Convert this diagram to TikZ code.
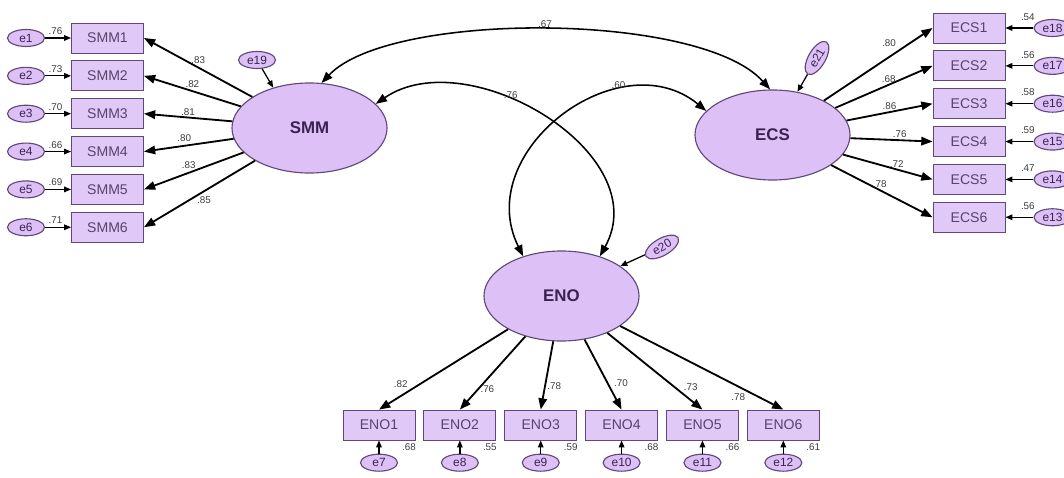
\documentclass[tikz,border=0pt]{standalone}
\usepackage{fontspec}
\setmainfont{Liberation Sans}
\usepackage{xcolor}
\definecolor{lilas}{RGB}{221,193,246}
\definecolor{lilasC}{RGB}{224,201,246}
\definecolor{roxo}{RGB}{96,72,122}
\definecolor{roxoT}{RGB}{58,35,82}
\definecolor{cinza}{RGB}{60,60,60}
\usetikzlibrary{arrows.meta,shapes.geometric,positioning}

\begin{document}
\begin{tikzpicture}[x=0.025cm,y=-0.025cm,
            latente/.style={ellipse,draw=roxo,fill=lilas,line width=0.8pt,
              minimum width=3.875cm,minimum height=2.25cm,
              font=\fontsize{12}{14}\selectfont\bfseries,text=roxoT},
            indic/.style={draw=roxo,fill=lilasC,line width=0.6pt,
              minimum width=1.8cm,minimum height=0.75cm,inner sep=0pt,
              font=\fontsize{10}{12}\selectfont,text=roxoT!85},
            erro/.style={ellipse,draw=roxo,fill=lilas,line width=0.8pt,
              minimum width=0.925cm,minimum height=0.425cm,inner sep=0pt,
              font=\fontsize{8.5}{10}\selectfont,text=roxoT},
            carga/.style={font=\fontsize{7}{8}\selectfont,text=cinza,inner sep=1pt},
            seta/.style={-{Triangle[length=8pt,width=6pt]},line width=1.3pt},
            setaerro/.style={-{Triangle[length=5pt,width=4pt]},line width=0.9pt},
            cov/.style={{Triangle[length=8pt,width=6pt]}-{Triangle[length=8pt,width=6pt]},
              line width=1.1pt}
            ]
            \useasboundingbox (0,0) rectangle (1064,478);

            % fatores latentes
            \node[latente] (smm) at (309.5,128) {SMM};
            \node[latente] (ecs) at (772.5,135) {ECS};
            \node[latente] (eno) at (561.5,296) {ENO};

            % indicadores SMM
            \node[indic] at (107.5,38)             (s1) {SMM1};
            \node[indic,below=0.175cm of s1]       (s2) {SMM2};
            \node[indic,below=0.175cm of s2]       (s3) {SMM3};
            \node[indic,below=0.175cm of s3]       (s4) {SMM4};
            \node[indic,below=0.175cm of s4]       (s5) {SMM5};
            \node[indic,below=0.175cm of s5]       (s6) {SMM6};

            % indicadores ECS
            \node[indic] at (969,28)               (c1) {ECS1};
            \node[indic,below=0.175cm of c1]       (c2) {ECS2};
            \node[indic,below=0.175cm of c2]       (c3) {ECS3};
            \node[indic,below=0.175cm of c3]       (c4) {ECS4};
            \node[indic,below=0.175cm of c4]       (c5) {ECS5};
            \node[indic,below=0.175cm of c5]       (c6) {ECS6};

            % indicadores ENO
            \node[indic] at (379,425)              (n1) {ENO1};
            \node[indic,right=0.2cm of n1]         (n2) {ENO2};
            \node[indic,right=0.2cm of n2]         (n3) {ENO3};
            \node[indic,right=0.2cm of n3]         (n4) {ENO4};
            \node[indic,right=0.2cm of n4]         (n5) {ENO5};
            \node[indic,right=0.2cm of n5]         (n6) {ENO6};

            % erros
            \node[erro,left=0.65cm of s1]          (e1) {e1};
            \node[erro,left=0.65cm of s2]          (e2) {e2};
            \node[erro,left=0.65cm of s3]          (e3) {e3};
            \node[erro,left=0.65cm of s4]          (e4) {e4};
            \node[erro,left=0.65cm of s5]          (e5) {e5};
            \node[erro,left=0.65cm of s6]          (e6) {e6};
            \node[erro,right=0.7cm of c1]          (e18) {e18};
            \node[erro,right=0.7cm of c2]          (e17) {e17};
            \node[erro,right=0.7cm of c3]          (e16) {e16};
            \node[erro,right=0.7cm of c4]          (e15) {e15};
            \node[erro,right=0.7cm of c5]          (e14) {e14};
            \node[erro,right=0.7cm of c6]          (e13) {e13};
            \node[erro,below=0.33cm of n1]         (e7) {e7};
            \node[erro,below=0.33cm of n2]         (e8) {e8};
            \node[erro,below=0.33cm of n3]         (e9) {e9};
            \node[erro,below=0.33cm of n4]         (e10) {e10};
            \node[erro,below=0.33cm of n5]         (e11) {e11};
            \node[erro,below=0.33cm of n6]         (e12) {e12};
            \node[erro] at (257,60)                (e19) {e19};
            \node[erro,rotate=60] at (817,58)      (e21) {e21};
            \node[erro,rotate=30] at (662,247)     (e20) {e20};

            % cargas SMM
            \draw[seta] (smm) -- node[carga,above=1pt] {.83} (s1.east);
            \draw[seta] (smm) -- node[carga,above=1pt] {.82} (s2.east);
            \draw[seta] (smm) -- node[carga,above] {.81} (s3.east);
            \draw[seta] (smm) -- node[carga,pos=.55,above=1pt] {.80} (s4.east);
            \draw[seta] (smm) -- node[carga,pos=.55,above=1pt] {.83} (s5.east);
            \draw[seta] (smm) -- node[carga,pos=.46,below=2pt] {.85} (s6.east);

            % cargas ECS
            \draw[seta] (ecs) -- node[carga,pos=.6,above=6pt] {.80} (c1.west);
            \draw[seta] (ecs) -- node[carga,pos=.55,above] {.68} (c2.west);
            \draw[seta] (ecs) -- node[carga,pos=.5,above] {.86} (c3.west);
            \draw[seta] (ecs) -- node[carga,pos=.6,above] {.76} (c4.west);
            \draw[seta] (ecs) -- node[carga,pos=.6,above] {.72} (c5.west);
            \draw[seta] (ecs) -- node[carga,pos=.48,above] {.78} (c6.west);

            % cargas ENO
            \draw[seta] (eno) -- node[carga,pos=.76,above left] {.82} (n1.north);
            \draw[seta] (eno) -- node[carga,pos=.72,right] {.76} (n2.north);
            \draw[seta] (eno) -- node[carga,pos=.65,right] {.78} (n3.north);
            \draw[seta] (eno) -- node[carga,pos=.62,right=3pt] {.70} (n4.north);
            \draw[seta] (eno) -- node[carga,pos=.78,above right] {.73} (n5.north);
            \draw[seta] (eno) -- node[carga,pos=.78,below left] {.78} (n6.north);

            % setas dos erros
            \draw[setaerro] (e1) -- node[carga,pos=.4,above=1pt] {.76} (s1);
            \draw[setaerro] (e2) -- node[carga,pos=.4,above=1pt] {.73} (s2);
            \draw[setaerro] (e3) -- node[carga,pos=.4,above=1pt] {.70} (s3);
            \draw[setaerro] (e4) -- node[carga,pos=.4,above=1pt] {.66} (s4);
            \draw[setaerro] (e5) -- node[carga,pos=.4,above=1pt] {.69} (s5);
            \draw[setaerro] (e6) -- node[carga,pos=.4,above=1pt] {.71} (s6);
            \draw[setaerro] (e18) -- node[carga,pos=.2,above=4pt] {.54} (c1);
            \draw[setaerro] (e17) -- node[carga,pos=.2,above=4pt] {.56} (c2);
            \draw[setaerro] (e16) -- node[carga,pos=.2,above=4pt] {.58} (c3);
            \draw[setaerro] (e15) -- node[carga,pos=.2,above=4pt] {.59} (c4);
            \draw[setaerro] (e14) -- node[carga,pos=.2,above=4pt] {.47} (c5);
            \draw[setaerro] (e13) -- node[carga,pos=.2,above=4pt] {.56} (c6);
            \draw[setaerro] (e7) -- node[carga,right=15pt] {.68} (n1);
            \draw[setaerro] (e8) -- node[carga,right=15pt] {.55} (n2);
            \draw[setaerro] (e9) -- node[carga,right=15pt] {.59} (n3);
            \draw[setaerro] (e10) -- node[carga,right=15pt] {.68} (n4);
            \draw[setaerro] (e11) -- node[carga,right=15pt] {.66} (n5);
            \draw[setaerro] (e12) -- node[carga,right=15pt] {.61} (n6);
            \draw[setaerro] (e19) -- (smm.132);
            \draw[setaerro] (e21) -- (ecs.60);
            \draw[setaerro] (e20) -- (eno.27);

            % covariancias
            \draw[cov] (ecs.93)
            .. controls +(-70,-78) and +(68,-72) ..
            node[pos=.5,above,carga] {.67}
            (smm.75);
            \draw[cov] (smm.20)
            .. controls +(92,-63) and +(57,-103) ..
            node[pos=.4,above,carga] {.76}
            (eno.46);
            \draw[cov] (ecs.160)
            .. controls +(-87,-71) and +(-52,-105) ..
            node[pos=.3,above,carga] {.60}
            (eno.134);
          \end{tikzpicture}
\end{document}
